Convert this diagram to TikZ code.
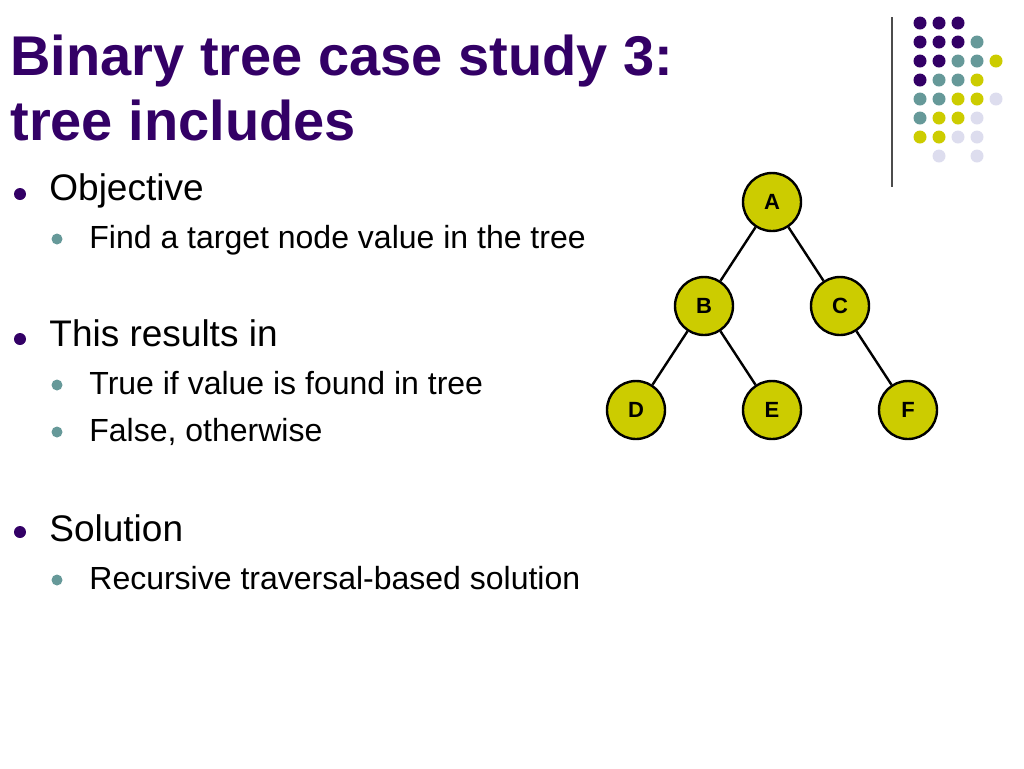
\documentclass[tikz,border=0pt]{standalone}
\usepackage{fontspec}
\setmainfont{Liberation Sans}
\definecolor{titlepurple}{HTML}{330066}
\definecolor{dotpurple}{HTML}{330066}
\definecolor{dotteal}{HTML}{669999}
\definecolor{dotyellow}{HTML}{CCCC00}
\definecolor{dotlav}{HTML}{DDDDEE}
\tikzset{
  treenode/.style={circle, draw=black, line width=1.2pt, fill=dotyellow,
    minimum size=29pt, inner sep=0pt, font=\fontsize{11}{13}\selectfont\bfseries},
  treeedge/.style={line width=1.2pt},
  lvlone/.style={anchor=base west, font=\fontsize{18.5}{22}\selectfont},
  lvltwo/.style={anchor=base west, font=\fontsize{16}{18}\selectfont},
}
\begin{document}
\begin{tikzpicture}[x=0.5pt,y=-0.5pt]
      \useasboundingbox (0,0) rectangle (1024,768);
      % title
      \node[anchor=base west, text=titlepurple, font=\fontsize{28}{32}\selectfont\bfseries,
        inner sep=0pt] (t1) at (10,75) {Binary tree case study 3:};
      \node[anchor=base west, text=titlepurple, font=\fontsize{28}{32}\selectfont\bfseries,
        inner sep=0pt] (t2) at (10,140) {tree includes};
      % corner dots
      \draw[line width=0.8pt, black!70] (892,17) -- (892,187);
      \foreach \row/\cols in {0/{dotpurple,dotpurple,dotpurple,none,none},
          1/{dotpurple,dotpurple,dotpurple,dotteal,none},
          2/{dotpurple,dotpurple,dotteal,dotteal,dotyellow},
          3/{dotpurple,dotteal,dotteal,dotyellow,none},
          4/{dotteal,dotteal,dotyellow,dotyellow,dotlav},
          5/{dotteal,dotyellow,dotyellow,dotlav,none},
          6/{dotyellow,dotyellow,dotlav,dotlav,none},
          7/{none,dotlav,none,dotlav,none}} {
        \foreach \c [count=\i from 0] in \cols {
          \fill[fill=\c] (920+19*\i,23+19*\row) circle (6.5);
        }
      }
      % bullets
      \foreach \y in {194,339,532} \fill[dotpurple] (20,\y) circle (6);
      \foreach \y in {239,385,432,580} \fill[dotteal] (57,\y) circle (5.5);
      \node[lvlone, inner sep=0pt] (b1) at (49,200) {Objective};
      \node[lvltwo, inner sep=0pt] (s1) at (89,248) {Find a target node value in the tree};
      \node[lvlone, inner sep=0pt] (b2) at (49,346) {This results in};
      \node[lvltwo, inner sep=0pt] (s2) at (89,394) {True if value is found in tree};
      \node[lvltwo, inner sep=0pt] (s3) at (89,441) {False, otherwise};
      \node[lvlone, inner sep=0pt] (b3) at (49,541) {Solution};
      \node[lvltwo, inner sep=0pt] (s4) at (89,589) {Recursive traversal-based solution};
      % tree
      \node[treenode] (A) at (772,202) {A};
      \node[treenode] (B) at (704,306) {B};
      \node[treenode] (C) at (840,306) {C};
      \node[treenode] (D) at (636,410) {D};
      \node[treenode] (E) at (772,410) {E};
      \node[treenode] (F) at (908,410) {F};
      \draw[treeedge] (A) -- (B);
      \draw[treeedge] (A) -- (C);
      \draw[treeedge] (B) -- (D);
      \draw[treeedge] (B) -- (E);
      \draw[treeedge] (C) -- (F);
\end{tikzpicture}
\end{document}
